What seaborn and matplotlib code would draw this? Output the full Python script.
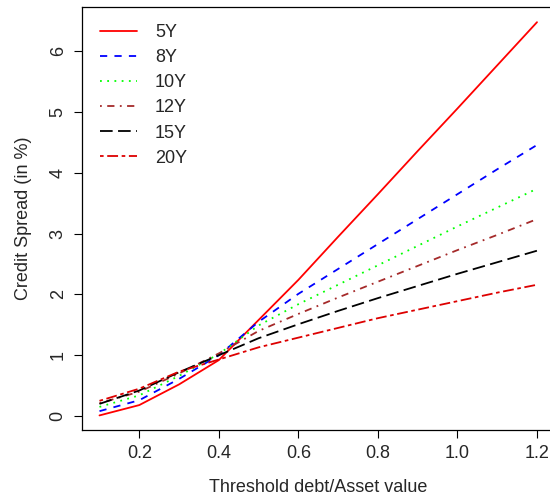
import pandas as pd
import seaborn as sns
import matplotlib.pyplot as plt

# Threshold debt/asset value grid
threshold = [0.1, 0.2, 0.3, 0.4, 0.5, 0.6, 0.7, 0.8, 0.9, 1.0, 1.1, 1.2]

# Credit spreads (in %) by maturity
spread_5y = [0.01, 0.18, 0.52, 0.92, 1.58, 2.24, 2.95, 3.65, 4.36, 5.06, 5.77, 6.48]
spread_8y = [0.08, 0.26, 0.61, 1.00, 1.55, 2.01, 2.42, 2.83, 3.24, 3.65, 4.06, 4.46]
spread_10y = [0.15, 0.34, 0.66, 1.02, 1.49, 1.84, 2.16, 2.48, 2.80, 3.12, 3.43, 3.74]
spread_12y = [0.21, 0.40, 0.70, 1.03, 1.40, 1.68, 1.95, 2.21, 2.47, 2.73, 2.98, 3.24]
spread_15y = [0.20, 0.42, 0.72, 1.00, 1.28, 1.51, 1.73, 1.94, 2.14, 2.34, 2.53, 2.72]
spread_20y = [0.25, 0.45, 0.73, 0.93, 1.13, 1.29, 1.45, 1.61, 1.75, 1.89, 2.03, 2.16]

maturities = ["5Y", "8Y", "10Y", "12Y", "15Y", "20Y"]
series = [spread_5y, spread_8y, spread_10y, spread_12y, spread_15y, spread_20y]

# long-form frame for seaborn
df = pd.concat([pd.DataFrame({"threshold": threshold, "spread": s, "maturity": m})
                for m, s in zip(maturities, series)], ignore_index=True)

colors = {"5Y": "#FF0000", "8Y": "#0000FF", "10Y": "#00FF00",
          "12Y": "#A52A2A", "15Y": "#000000", "20Y": "#DD0000"}
# R lty patterns: solid, dashed, dotted, dotdash, longdash, twodash
dashes = {"5Y": "", "8Y": (4, 4), "10Y": (1, 3), "12Y": (1, 3, 4, 3),
          "15Y": (7, 3), "20Y": (2, 2, 6, 2)}

sns.set_style("white")
plt.rcParams["font.family"] = ["Liberation Sans", "DejaVu Sans"]
plt.rcParams["lines.linewidth"] = 1.3

fig = plt.figure(figsize=(5.5, 4.97), dpi=100)
ax = fig.add_axes([82 / 550, 1 - 430 / 497, (554.5 - 82) / 550, (430 - 7) / 497])

sns.lineplot(data=df, x="threshold", y="spread", hue="maturity", style="maturity",
             palette=colors, dashes=dashes, hue_order=maturities,
             style_order=maturities, ax=ax)

ax.set_xlim(0.056, 1.244)
ax.set_ylim(-0.23, 6.73)
ax.set_xticks([0.2, 0.4, 0.6, 0.8, 1.0, 1.2])
ax.set_yticks([0, 1, 2, 3, 4, 5, 6])
ax.set_xticklabels(["0.2", "0.4", "0.6", "0.8", "1.0", "1.2"])
ax.set_yticklabels([str(v) for v in range(7)], rotation=90, va="center")
ax.tick_params(direction="out", length=6, width=0.8, labelsize=13, pad=5,
               left=True, bottom=True, color="black")
for sp in ax.spines.values():
    sp.set_color("black")
    sp.set_linewidth(0.9)

ax.set_xlabel("Threshold debt/Asset value", fontsize=13, labelpad=12)
ax.set_ylabel("Credit Spread (in %)", fontsize=13, labelpad=13)

handles, labels = ax.get_legend_handles_labels()
ax.legend(handles, labels, loc="upper left", bbox_to_anchor=(100 / 550, 1 - 24 / 497),
          bbox_transform=fig.transFigure, frameon=False, fontsize=13,
          handlelength=2.05, handletextpad=1.0, labelspacing=0.45,
          borderpad=0, borderaxespad=0)

fig.savefig("out.png", dpi=100)
